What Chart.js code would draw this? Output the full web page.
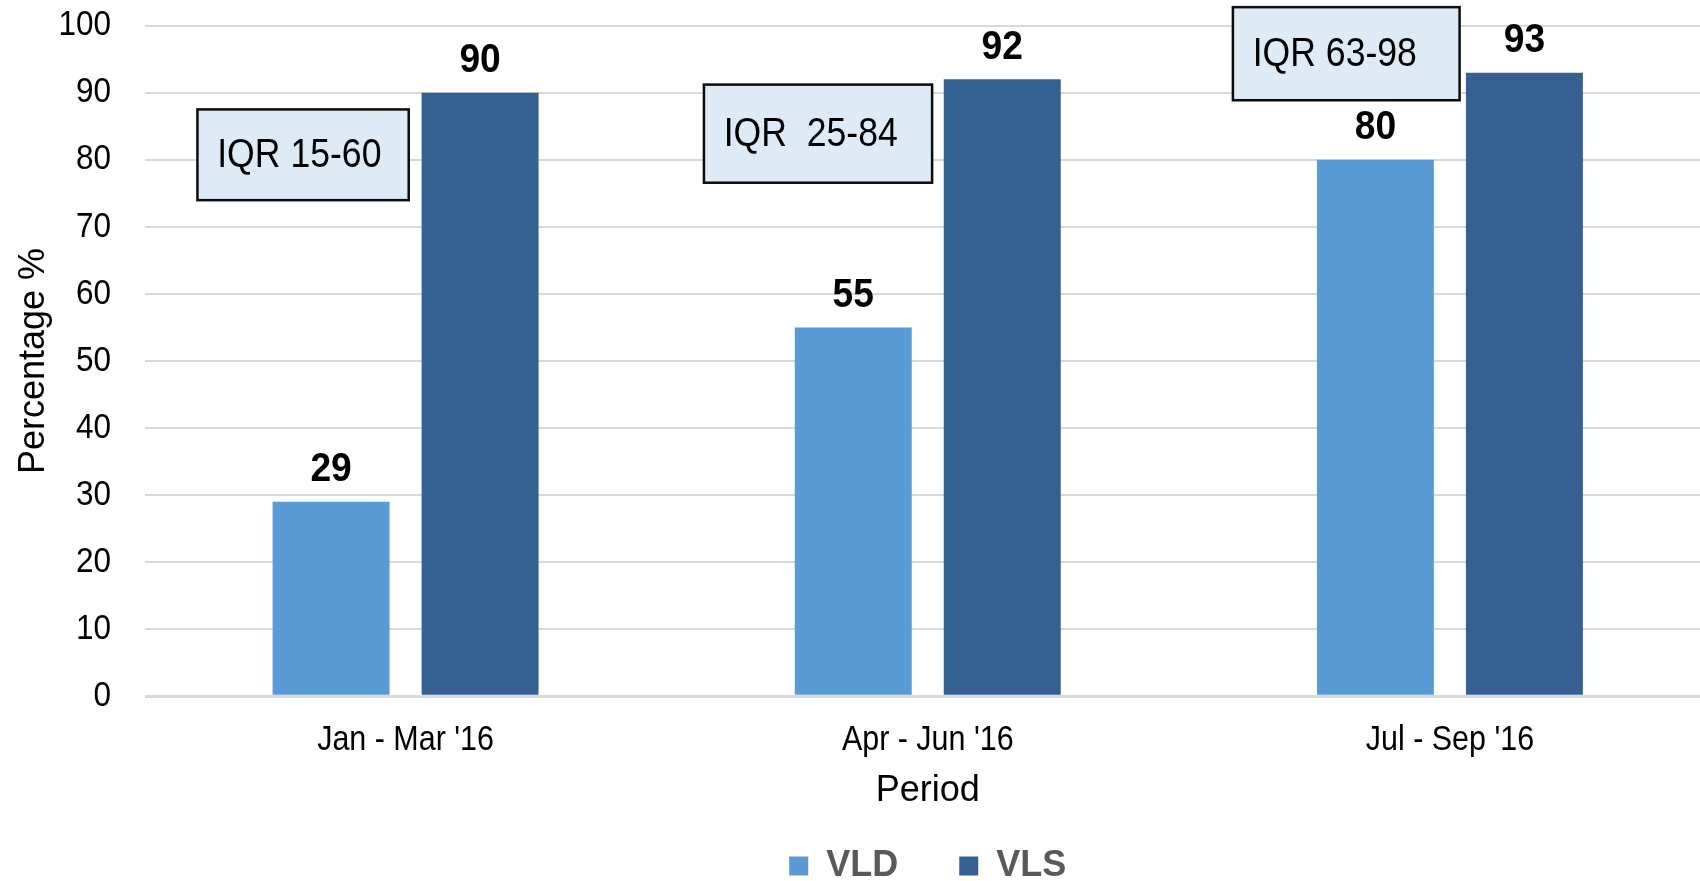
<!DOCTYPE html>
<html>
<head>
<meta charset="utf-8">
<title>VLD and VLS by period</title>
<script src="https://cdn.jsdelivr.net/npm/chart.js@4/dist/chart.umd.min.js"></script>
<style>
  html, body { margin: 0; padding: 0; background: #ffffff; overflow: hidden; }
  #wrap { width: 1700px; height: 881px; overflow: hidden; position: relative; }
  canvas { display: block; }
</style>
</head>
<body>
<div id="wrap"><canvas id="chart" width="1711" height="894"></canvas></div>
<script>
// Data
const periods = ["Jan - Mar '16", "Apr - Jun '16", "Jul - Sep '16"];
const vldValues = [29, 55, 80];
const vlsValues = [90, 92, 93];
const yTicks = [0, 10, 20, 30, 40, 50, 60, 70, 80, 90, 100];
const iqrLabels = ['IQR 15-60', 'IQR  25-84', 'IQR 63-98'];

// Callout placement: horizontal edges as a share of the category width
// measured from the category centre, vertical edges in axis units.
const calloutLayout = {
  left:   [-0.401, -0.431, -0.418],
  right:  [0.0084, 0.0107, 0.0209],
  top:    [87.7, 91.4, 102.95],
  bottom: [73.8, 76.4, 88.7]
};

const FONT = "'Liberation Sans', Arial, Helvetica, sans-serif";
// horizontal squeeze that gives the condensed look of the tick and value text
const SQUEEZE = { x: 0.87, y: 0.9, value: 0.93, note: 0.89 };

// Draw tick labels condensed, at the positions the scale computes
const narrowTicks = {
  id: 'narrowTicks',
  beforeDraw(chart) {
    Object.values(chart.scales).forEach((scale) => {
      if (scale.$narrow) return;
      scale.$narrow = true;
      scale.drawLabels = function (chartArea) {
        const ctx = this.ctx;
        const k = SQUEEZE[this.axis] || 1;
        this.getLabelItems(chartArea).forEach((item) => {
          const o = item.options;
          ctx.save();
          ctx.translate(o.translation[0], o.translation[1]);
          ctx.scale(k, 1);
          ctx.font = item.font.string;
          ctx.fillStyle = o.color;
          ctx.textAlign = o.textAlign;
          ctx.textBaseline = o.textBaseline;
          ctx.fillText(String(item.label), 0, item.textOffset);
          ctx.restore();
        });
      };
    });
  }
};

// Bold value above each bar
const valueLabels = {
  id: 'valueLabels',
  afterDatasetsDraw(chart) {
    const { ctx } = chart;
    chart.data.datasets.forEach((ds, di) => {
      chart.getDatasetMeta(di).data.forEach((bar, i) => {
        ctx.save();
        ctx.translate(bar.x, bar.y - 20.5);
        ctx.scale(SQUEEZE.value, 1);
        ctx.font = 'bold 40px ' + FONT;
        ctx.fillStyle = '#000000';
        ctx.textAlign = 'center';
        ctx.textBaseline = 'alphabetic';
        ctx.fillText(String(ds.data[i]), 0, 0);
        ctx.restore();
      });
    });
  }
};

// Boxed IQR notes next to each period
const iqrCallouts = {
  id: 'iqrCallouts',
  afterDraw(chart) {
    const { ctx } = chart;
    const xs = chart.scales.x, ys = chart.scales.y;
    const catW = xs.getPixelForValue(1) - xs.getPixelForValue(0);
    iqrLabels.forEach((text, i) => {
      const cx = xs.getPixelForValue(i);
      const l = cx + calloutLayout.left[i] * catW;
      const r = cx + calloutLayout.right[i] * catW;
      const t = ys.getPixelForValue(calloutLayout.top[i]);
      const b = ys.getPixelForValue(calloutLayout.bottom[i]);
      ctx.save();
      ctx.fillStyle = '#deeaf6';
      ctx.fillRect(l, t, r - l, b - t);
      ctx.lineWidth = 2.5;
      ctx.strokeStyle = '#0d0d0d';
      ctx.strokeRect(l + 1.25, t + 1.25, r - l - 2.5, b - t - 2.5);
      ctx.translate(l + 21, (t + b) / 2 + 1);
      ctx.scale(SQUEEZE.note, 1);
      ctx.font = '40px ' + FONT;
      ctx.fillStyle = '#000000';
      ctx.textAlign = 'left';
      ctx.textBaseline = 'middle';
      ctx.fillText(text, 0, 0);
      ctx.restore();
    });
  }
};

new Chart(document.getElementById('chart'), {
  type: 'bar',
  data: {
    labels: periods,
    datasets: [
      {
        label: 'VLD',
        data: vldValues,
        backgroundColor: '#5b9bd5',
        borderWidth: 0,
        categoryPercentage: 0.5707,
        barPercentage: 0.785
      },
      {
        label: 'VLS',
        data: vlsValues,
        backgroundColor: '#376092',
        borderWidth: 0,
        categoryPercentage: 0.5707,
        barPercentage: 0.785
      }
    ]
  },
  options: {
    responsive: false,
    animation: false,
    devicePixelRatio: 1,
    layout: { padding: { top: 25.7, left: 0, right: 0, bottom: 0 } },
    plugins: {
      tooltip: { enabled: false },
      legend: {
        position: 'bottom',
        fullSize: false,
        labels: {
          boxWidth: 19,
          boxHeight: 19,
          padding: 61,
          color: '#595959',
          font: { family: FONT, size: 36, weight: 'bold' }
        }
      }
    },
    scales: {
      x: {
        grid: { display: false, drawTicks: false },
        border: { display: false },
        ticks: {
          color: '#000000',
          padding: 23.5,
          font: { family: FONT, size: 35 }
        },
        title: {
          display: true,
          text: 'Period',
          color: '#000000',
          font: { family: FONT, size: 36 },
          padding: { top: 0, bottom: -25.6 }
        },
        afterFit(scale) { scale.height = 90.7; }
      },
      y: {
        min: 0,
        max: 100,
        afterBuildTicks(axis) { axis.ticks = yTicks.map(v => ({ value: v })); },
        grid: {
          color: '#d9d9d9',
          lineWidth: (c) => (c.tick && c.tick.value === 0 ? 3 : 2),
          drawTicks: false
        },
        border: { display: false },
        ticks: {
          color: '#000000',
          padding: 33.5,
          font: { family: FONT, size: 35 }
        },
        title: {
          display: true,
          text: 'Percentage %',
          color: '#000000',
          font: { family: FONT, size: 36 },
          padding: { top: 12.5, bottom: 0 }
        },
        afterFit(scale) {
          scale.width = 144.5;
          scale.paddingTop = 0;
          scale.paddingBottom = 0;
        }
      }
    }
  },
  plugins: [narrowTicks, valueLabels, iqrCallouts]
});
</script>
</body>
</html>
